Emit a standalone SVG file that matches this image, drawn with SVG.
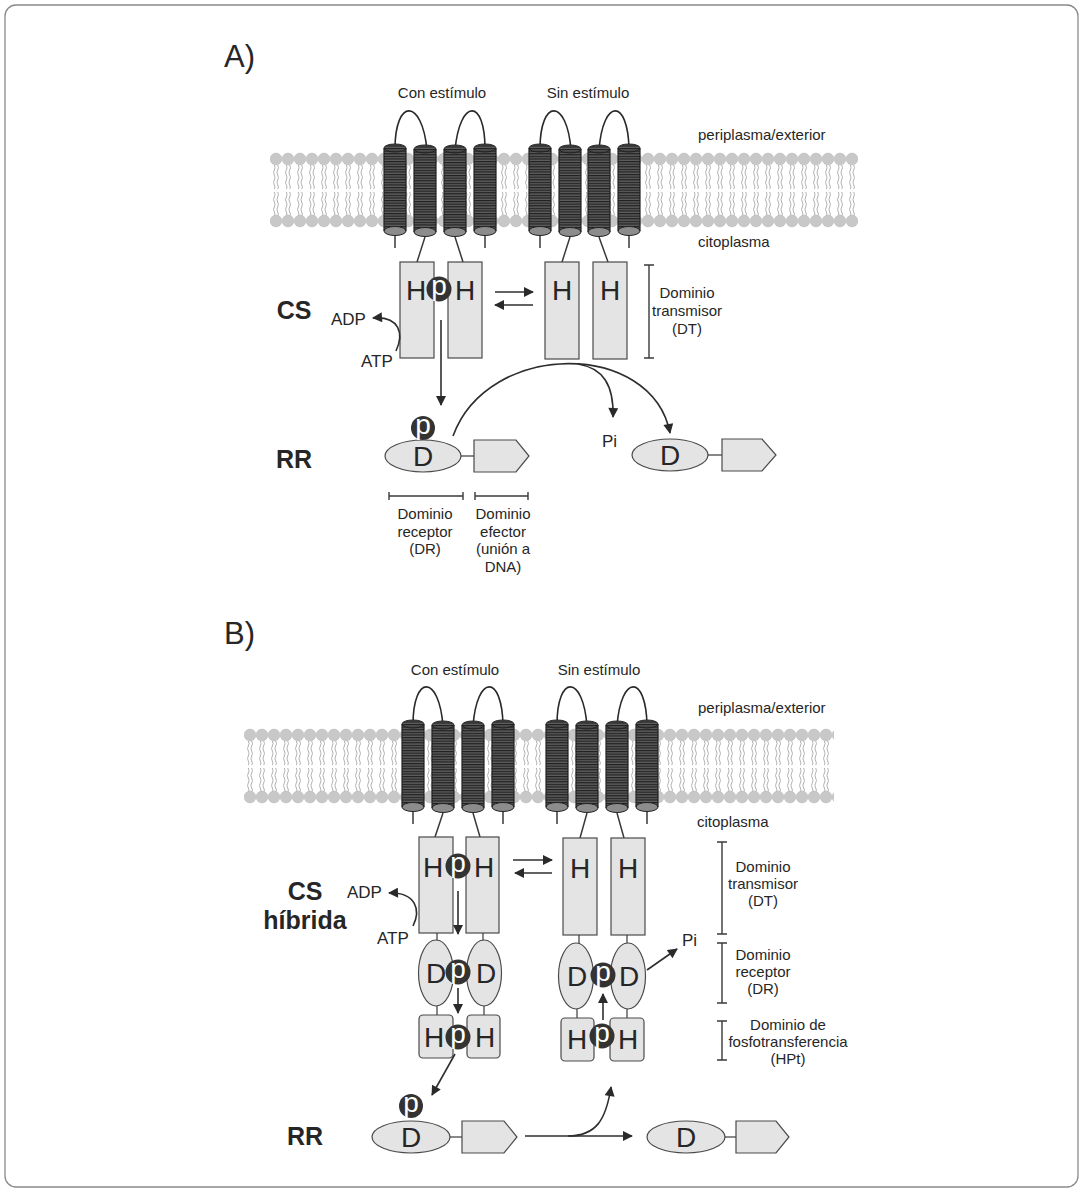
<svg xmlns="http://www.w3.org/2000/svg" width="1083" height="1192" viewBox="0 0 1083 1192">
<defs>
<style>
.t{font-family:"Liberation Sans",Arial,sans-serif;fill:#262626}
.s14{font-size:15px}
.s15{font-size:17px}
.m{text-anchor:middle}
.bold{font-size:25px;font-weight:bold}
.L{font-size:28px}
.box{fill:#e4e4e4;stroke:#4a4a4a;stroke-width:1.2}
.ln{stroke:#3a3a3a;stroke-width:1.5;fill:none}
.arr{stroke:#2e2e2e;stroke-width:1.6;fill:none;marker-end:url(#ah)}
.brk{stroke:#3a3a3a;stroke-width:1.4;fill:none}
.pc{fill:#333}
.pt{font-family:"Liberation Sans",Arial,sans-serif;font-size:28px;fill:#fff;text-anchor:middle}
.loop{stroke:#2a2a2a;stroke-width:1.6;fill:none}
</style>
<marker id="ah" viewBox="0 0 10 10" refX="9" refY="5" markerWidth="11" markerHeight="10" markerUnits="userSpaceOnUse" orient="auto">
<path d="M0,0 L10,5 L0,10 Z" fill="#2a2a2a"/>
</marker>
<pattern id="coil" patternUnits="userSpaceOnUse" width="24" height="2.6">
<rect width="24" height="2.6" fill="#5e5e5e"/>
<line x1="0" y1="0.6" x2="24" y2="0.6" stroke="#202020" stroke-width="1.2"/>
</pattern>
<pattern id="lipid" patternUnits="userSpaceOnUse" width="12" height="76">
<g stroke="#a8a8a8" stroke-width="0.9" fill="none">
<path d="M4.3,13 q1.5,2.5 0,5 q-1.5,2.5 0,5 q1.5,2.5 0,5 q-1.5,2.5 0,5 q1.5,2 0,4"/>
<path d="M7.7,13 q1.5,2.5 0,5 q-1.5,2.5 0,5 q1.5,2.5 0,5 q-1.5,2.5 0,5 q1.5,2 0,4"/>
<path d="M4.3,40 q1.5,2.5 0,5 q-1.5,2.5 0,5 q1.5,2.5 0,5 q-1.5,2.5 0,5 q1.5,2 0,4"/>
<path d="M7.7,40 q1.5,2.5 0,5 q-1.5,2.5 0,5 q1.5,2.5 0,5 q-1.5,2.5 0,5 q1.5,2 0,4"/>
</g>
<circle cx="6" cy="7" r="5.9" fill="#c8c8c8" stroke="#b4b4b4" stroke-width="0.5"/>
<circle cx="6" cy="69" r="5.9" fill="#c8c8c8" stroke="#b4b4b4" stroke-width="0.5"/>
</pattern>
<g id="cyl">
<rect x="-11" y="0" width="22" height="83" fill="url(#coil)"/>
<ellipse cx="0" cy="83" rx="11" ry="4.5" fill="#8c8c8c" stroke="#222" stroke-width="1"/>
<ellipse cx="0" cy="0" rx="11" ry="4" fill="url(#coil)" stroke="#222" stroke-width="1"/>
<path d="M-11,0 V83 M11,0 V83" stroke="#222" stroke-width="1.2" fill="none"/>
</g>
</defs>

<rect x="5" y="5" width="1073" height="1182" rx="11" fill="#fff" stroke="#8a8a8a" stroke-width="1.3"/>

<!-- ============ PANEL A ============ -->
<g id="labelsA">
<text class="t" x="224" y="67" style="font-size:31px">A)</text>
<text class="t s14 m" x="442" y="98">Con estímulo</text>
<text class="t s14 m" x="588" y="98">Sin estímulo</text>
<text class="t s14" x="698" y="140">periplasma/exterior</text>
<text class="t s14" x="698" y="247">citoplasma</text>
<text class="t bold m" x="294" y="319">CS</text>
<text class="t bold m" x="294" y="468">RR</text>
</g>

<g id="membraneA" transform="translate(270,152)">
<rect x="0" y="0" width="588" height="76" fill="url(#lipid)"/>
</g>

<g id="receptorsA">
<path class="loop" d="M395,149 C395,98 422,98 427,150 M455,150 C460,98 485,98 485,149 M540,149 C540,98 567,98 571,150 M599,150 C603,98 628,98 629,149"/>
<use href="#cyl" x="395" y="148"/>
<use href="#cyl" x="425" y="149"/>
<use href="#cyl" x="455" y="149"/>
<use href="#cyl" x="485" y="148"/>
<use href="#cyl" x="540" y="148"/>
<use href="#cyl" x="570" y="149"/>
<use href="#cyl" x="599" y="149"/>
<use href="#cyl" x="629" y="148"/>
<path class="ln" d="M395,236 V248 M425,237 L417,262 M455,237 L463,262 M485,236 V248 M540,236 V248 M570,237 L562,262 M599,237 L608,262 M629,236 V248"/>
</g>

<g id="CS-A-active">
<rect class="box" x="400" y="262" width="34" height="96"/>
<rect class="box" x="448" y="262" width="34" height="96"/>
<text class="t L m" x="416" y="300">H</text>
<text class="t L m" x="465" y="300">H</text>
<circle class="pc" cx="439" cy="289" r="12.5"/>
<text class="pt" x="439" y="295">p</text>
</g>

<g id="CS-A-inactive">
<rect class="box" x="545" y="262" width="34" height="97"/>
<rect class="box" x="593" y="262" width="34" height="97"/>
<text class="t L m" x="562" y="300">H</text>
<text class="t L m" x="610" y="300">H</text>
</g>

<g id="atpA">
<text class="t s15" x="331" y="325">ADP</text>
<text class="t s15" x="361" y="367">ATP</text>
</g>

<g id="bracketDT-A">
<path class="brk" d="M649,265 V358 M644,265 H654 M644,358 H654"/>
<text class="t s14 m" x="687" y="298">Dominio</text>
<text class="t s14 m" x="687" y="316">transmisor</text>
<text class="t s14 m" x="687" y="334">(DT)</text>
</g>

<g id="RR-A-phospho">
<ellipse class="box" cx="423" cy="456" rx="38" ry="16"/>
<text class="t L m" x="423" y="466">D</text>
<circle class="pc" cx="423" cy="428" r="12"/>
<text class="pt" x="423" y="434">p</text>
<path class="ln" d="M461,456 H474" style="stroke-width:1.2"/>
<path class="box" d="M474,440 L516,440 L529,456 L516,472 L474,472 Z"/>
</g>

<g id="RR-A-free">
<ellipse class="box" cx="670" cy="455" rx="38" ry="16"/>
<text class="t L m" x="670" y="465">D</text>
<path class="ln" d="M708,455 H722" style="stroke-width:1.2"/>
<path class="box" d="M722,439 L762,439 L776,455 L762,471 L722,471 Z"/>
<text class="t s15" x="602" y="447">Pi</text>
</g>

<g id="domainsRR-A">
<path class="brk" d="M389,496 H463 M389,492 V500 M463,492 V500 M475,496 H528 M475,492 V500 M528,492 V500"/>
<text class="t s14 m" x="425" y="519">Dominio</text>
<text class="t s14 m" x="425" y="537">receptor</text>
<text class="t s14 m" x="425" y="554">(DR)</text>
<text class="t s14 m" x="503" y="519">Dominio</text>
<text class="t s14 m" x="503" y="537">efector</text>
<text class="t s14 m" x="503" y="554">(unión a</text>
<text class="t s14 m" x="503" y="572">DNA)</text>
</g>

<!-- ============ PANEL B ============ -->
<g id="labelsB">
<text class="t" x="224" y="644" style="font-size:31px">B)</text>
<text class="t s14 m" x="455" y="675">Con estímulo</text>
<text class="t s14 m" x="599" y="675">Sin estímulo</text>
<text class="t s14" x="698" y="713">periplasma/exterior</text>
<text class="t s14" x="697" y="827">citoplasma</text>
<text class="t bold m" x="305" y="900">CS</text>
<text class="t bold m" x="305" y="929">híbrida</text>
<text class="t bold m" x="305" y="1145">RR</text>
</g>

<g id="membraneB" transform="translate(244,728)">
<rect x="0" y="0" width="590" height="76" fill="url(#lipid)"/>
</g>

<g id="receptorsB">
<path class="loop" d="M413,725 C413,674 439,674 443,726 M473,726 C477,674 502,674 503,725 M557,725 C557,674 583,674 587,726 M617,726 C621,674 646,674 647,725"/>
<use href="#cyl" x="413" y="724"/>
<use href="#cyl" x="443" y="725"/>
<use href="#cyl" x="473" y="725"/>
<use href="#cyl" x="503" y="724"/>
<use href="#cyl" x="557" y="724"/>
<use href="#cyl" x="587" y="725"/>
<use href="#cyl" x="617" y="725"/>
<use href="#cyl" x="647" y="724"/>
<path class="ln" d="M413,812 V824 M443,813 L435,837 M473,813 L480,837 M503,812 V824 M557,812 V824 M587,813 L580,838 M617,813 L624,838 M647,812 V824"/>
</g>

<g id="CS-B-active">
<rect class="box" x="419" y="837" width="34" height="96"/>
<rect class="box" x="466" y="837" width="33" height="96"/>
<text class="t L m" x="433" y="877">H</text>
<text class="t L m" x="484" y="877">H</text>
<circle class="pc" cx="458" cy="866" r="12.5"/>
<text class="pt" x="458" y="872">p</text>
<path class="ln" d="M437,933 V941 M483,933 V941" style="stroke-width:1.2"/>
<ellipse class="box" cx="436" cy="973" rx="17.5" ry="33"/>
<ellipse class="box" cx="484" cy="973" rx="17.5" ry="33"/>
<text class="t L m" x="436" y="983">D</text>
<text class="t L m" x="486" y="983">D</text>
<circle class="pc" cx="458" cy="972" r="12.5"/>
<text class="pt" x="458" y="978">p</text>
<path class="ln" d="M437,1006 V1016 M484,1006 V1016" style="stroke-width:1.2"/>
<rect class="box" x="419" y="1015" width="34" height="43" rx="4"/>
<rect class="box" x="467" y="1015" width="33" height="43" rx="4"/>
<text class="t L m" x="434" y="1047">H</text>
<text class="t L m" x="485" y="1047">H</text>
<circle class="pc" cx="458" cy="1037" r="12.5"/>
<text class="pt" x="458" y="1043">p</text>
</g>

<g id="CS-B-inactive">
<rect class="box" x="563" y="838" width="34" height="97"/>
<rect class="box" x="611" y="838" width="34" height="97"/>
<text class="t L m" x="580" y="878">H</text>
<text class="t L m" x="628" y="878">H</text>
<path class="ln" d="M579,935 V944 M627,935 V944" style="stroke-width:1.2"/>
<ellipse class="box" cx="576" cy="976" rx="17.5" ry="33"/>
<ellipse class="box" cx="628" cy="976" rx="17.5" ry="33"/>
<text class="t L m" x="577" y="986">D</text>
<text class="t L m" x="629" y="986">D</text>
<circle class="pc" cx="603" cy="975" r="12.5"/>
<text class="pt" x="603" y="981">p</text>
<path class="ln" d="M577,1009 V1018 M627,1009 V1018" style="stroke-width:1.2"/>
<rect class="box" x="561" y="1018" width="33" height="43" rx="4"/>
<rect class="box" x="610" y="1018" width="34" height="43" rx="4"/>
<text class="t L m" x="577" y="1049">H</text>
<text class="t L m" x="628" y="1049">H</text>
<circle class="pc" cx="602" cy="1036" r="12.5"/>
<text class="pt" x="602" y="1042">p</text>
<text class="t s15" x="682" y="946">Pi</text>
</g>

<g id="atpB">
<text class="t s15" x="347" y="898">ADP</text>
<text class="t s15" x="377" y="944">ATP</text>
</g>

<g id="bracketsB">
<path class="brk" d="M722,842 V934 M717,842 H727 M717,934 H727"/>
<path class="brk" d="M722,943 V1003 M717,943 H727 M717,1003 H727"/>
<path class="brk" d="M722,1021 V1060 M717,1021 H727 M717,1060 H727"/>
<text class="t s14 m" x="763" y="872">Dominio</text>
<text class="t s14 m" x="763" y="889">transmisor</text>
<text class="t s14 m" x="763" y="906">(DT)</text>
<text class="t s14 m" x="763" y="960">Dominio</text>
<text class="t s14 m" x="763" y="977">receptor</text>
<text class="t s14 m" x="763" y="994">(DR)</text>
<text class="t s14 m" x="788" y="1030">Dominio de</text>
<text class="t s14 m" x="788" y="1047">fosfotransferencia</text>
<text class="t s14 m" x="788" y="1064">(HPt)</text>
</g>

<g id="RR-B-phospho">
<ellipse class="box" cx="411" cy="1137" rx="39" ry="16"/>
<text class="t L m" x="411" y="1147">D</text>
<circle class="pc" cx="411" cy="1106" r="12"/>
<text class="pt" x="411" y="1112">p</text>
<path class="ln" d="M450,1137 H462" style="stroke-width:1.2"/>
<path class="box" d="M462,1121 L504,1121 L517,1137 L504,1153 L462,1153 Z"/>
</g>

<g id="RR-B-free">
<ellipse class="box" cx="686" cy="1137" rx="39" ry="16"/>
<text class="t L m" x="686" y="1147">D</text>
<path class="ln" d="M725,1137 H736" style="stroke-width:1.2"/>
<path class="box" d="M736,1121 L776,1121 L789,1137 L776,1153 L736,1153 Z"/>
</g>

<!-- ============ CONNECTORS ============ -->
<g id="connectors">
<path class="arr" d="M495,292 H533"/>
<path class="arr" d="M533,305 H495"/>
<path class="arr" d="M396,351 C404,334 400,316 373,318"/>
<path class="arr" d="M441,320 V405"/>
<path class="arr" d="M453,436 C488,340 652,340 670,433"/>
<path class="arr" d="M578,364 C603,368 614,385 613,417"/>
<path class="arr" d="M513,860 H552"/>
<path class="arr" d="M552,873 H515"/>
<path class="arr" d="M413,926 C421,910 416,892 389,893"/>
<path class="arr" d="M458,891 V934"/>
<path class="arr" d="M458,988 V1013"/>
<path class="arr" d="M603,1020 V994"/>
<path class="arr" d="M647,970 L677,949"/>
<path class="arr" d="M455,1054 L432,1095"/>
<path class="arr" d="M525,1136 H632"/>
<path class="arr" d="M568,1136 C596,1136 606,1120 611,1087"/>
</g>
</svg>
